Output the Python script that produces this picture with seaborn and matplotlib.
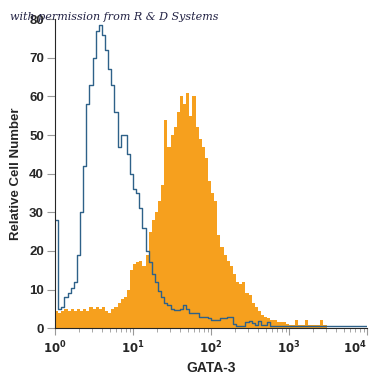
import numpy as np
import pandas as pd
import matplotlib
matplotlib.use("Agg")
import matplotlib.pyplot as plt
import seaborn as sns

# histogram bins: 0.04 decade wide, from 10^0 to 10^4 (log10 units)
bin_width = 0.04
bin_range = (0.0, 4.0)

# isotype control (blue outline), one value per bin
isotype_counts = [
    28, 5, 5.5, 8, 9, 10.5, 12, 19, 30, 42,
    58, 63, 70, 77, 78.5, 76, 72, 67, 63, 56,
    47, 50, 50, 45, 40, 36, 35, 31, 26, 20,
    17, 14, 12, 9.5, 8, 6.5, 6, 5, 4.7, 4.7,
    5, 6, 5, 4, 4, 3.8, 3, 2.8, 2.8, 2.5,
    2, 2, 2, 2.5, 2.5, 2.8, 2.8, 1, 0.5, 0.5,
    0.5, 1.5, 1.8, 1.2, 0.8, 1.8, 0.8, 0.8, 1.5, 0.6,
    0.5, 0.5, 0.5, 0.5, 0.5, 0.5, 0.5, 0.5, 0.5, 0.5,
    0.5, 0.5, 0.5, 0.5, 0.5, 0.5, 0.5, 0.5, 0.5, 0.5,
    0.5, 0.5, 0.5, 0.5, 0.5, 0.5, 0.5, 0.5, 0.5, 0.5,
]

# GATA-3 stained cells (orange fill)
gata3_counts = [
    4.5, 4, 4.5, 5, 4.5, 5, 4.5, 5, 4.5, 5,
    4.5, 5.5, 5, 5.5, 5, 5.5, 4.5, 3.8, 5, 5.5,
    6.5, 7.5, 8, 10, 15, 16.5, 17, 17.5, 16, 19,
    25, 28, 30, 33, 37, 54, 47, 50, 52, 56,
    60, 58, 61, 55, 60, 52, 49, 47, 44, 38,
    35, 33, 24, 21, 19, 17.5, 16, 14, 12, 11.5,
    12, 9, 8.5, 6.5, 5.5, 4.5, 3.5, 3, 2.5, 2,
    2, 1.5, 1.5, 1.5, 1, 0.8, 0.8, 2, 0.8, 0.8,
    2, 0.8, 0.8, 0.8, 0.8, 2, 0.8, 0, 0, 0,
    0, 0, 0, 0, 0, 0, 0, 0, 0, 0,
]

x_ticks = [1, 10, 100, 1000, 10000]
x_ticklabels = ["$10^0$", "$10^1$", "$10^2$", "$10^3$", "$10^4$"]

n_bins = len(isotype_counts)
log_centers = bin_range[0] + bin_width * (np.arange(n_bins) + 0.5)
df = pd.DataFrame({
    "intensity": 10 ** log_centers,
    "isotype": isotype_counts,
    "gata3": gata3_counts,
})

sns.set_style("ticks")
plt.rcParams["font.family"] = ["Liberation Sans Narrow", "Liberation Sans", "DejaVu Sans"]
plt.rcParams["mathtext.fontset"] = "custom"
plt.rcParams["mathtext.rm"] = "Liberation Sans Narrow:bold"
plt.rcParams["mathtext.bf"] = "Liberation Sans Narrow:bold"

fig = plt.figure(figsize=(3.75, 3.75), dpi=100)
ax = fig.add_axes([0.147, 0.125, 0.832, 0.824])

sns.histplot(data=df, x="intensity", weights="gata3", log_scale=True,
             binwidth=bin_width, binrange=bin_range, element="step",
             fill=True, color="#F6A01E", alpha=1, linewidth=0, ax=ax)
sns.histplot(data=df, x="intensity", weights="isotype", log_scale=True,
             binwidth=bin_width, binrange=bin_range, element="step",
             fill=False, color="#2E6189", linewidth=1, ax=ax)

ax.set_xlim(1, 1e4)
ax.set_ylim(0, 80)
ax.set_yticks(range(0, 81, 10))
ax.set_xticks(x_ticks)
ax.set_xticklabels(x_ticklabels)
sns.despine(ax=ax)

ax.tick_params(axis="both", which="both", color="#999999", labelsize=9.5, pad=2)
ax.tick_params(axis="x", which="major", length=5, labelsize=8.5, pad=3)
ax.tick_params(axis="x", which="minor", length=3)
ax.tick_params(axis="y", length=6)
for lab in ax.get_yticklabels():
    lab.set_fontweight("bold")
# keep the last decade label inside the figure
ax.get_xticklabels()[-1].set_horizontalalignment("right")

ax.set_xlabel("GATA-3", fontsize=10, fontweight="bold", labelpad=4)
ax.set_ylabel("Relative Cell Number", fontsize=9.5, fontweight="bold", labelpad=5)

fig.text(0.027, 0.955, "with permission from R & D Systems", fontsize=8,
         fontstyle="italic", family="DejaVu Serif", color="#222244", va="center")

plt.savefig("out.png", dpi=100)
plt.close()
